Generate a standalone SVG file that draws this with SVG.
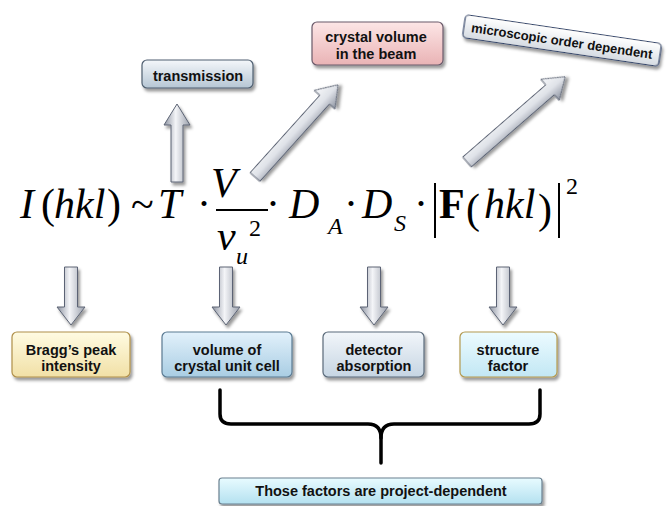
<svg xmlns="http://www.w3.org/2000/svg" width="668" height="506" viewBox="0 0 668 506">
<defs>
<filter id="sh" x="-20%" y="-30%" width="140%" height="170%"><feDropShadow dx="2" dy="3" stdDeviation="1.8" flood-color="#000" flood-opacity="0.4"/></filter>
<linearGradient id="gGray" x1="0" y1="0" x2="0" y2="1"><stop offset="0" stop-color="#f4f7fa"/><stop offset="1" stop-color="#b6c6d4"/></linearGradient>
<linearGradient id="gPink" x1="0" y1="0" x2="0" y2="1"><stop offset="0" stop-color="#fde6e6"/><stop offset="1" stop-color="#e9b3b5"/></linearGradient>
<linearGradient id="gWhite" x1="0" y1="0" x2="0" y2="1"><stop offset="0" stop-color="#ffffff"/><stop offset="1" stop-color="#d5dbe2"/></linearGradient>
<linearGradient id="gYel" x1="0" y1="0" x2="0" y2="1"><stop offset="0" stop-color="#fffbe2"/><stop offset="1" stop-color="#f1e0a6"/></linearGradient>
<linearGradient id="gBlue" x1="0" y1="0" x2="0" y2="1"><stop offset="0" stop-color="#e2f1fb"/><stop offset="1" stop-color="#a9cde3"/></linearGradient>
<linearGradient id="gBlueGray" x1="0" y1="0" x2="0" y2="1"><stop offset="0" stop-color="#f2f6fa"/><stop offset="1" stop-color="#c6d5e3"/></linearGradient>
<linearGradient id="gCyan" x1="0" y1="0" x2="0" y2="1"><stop offset="0" stop-color="#ecfbff"/><stop offset="1" stop-color="#c2e7f4"/></linearGradient>
<linearGradient id="gCyan2" x1="0" y1="0" x2="0" y2="1"><stop offset="0" stop-color="#e8fbff"/><stop offset="1" stop-color="#b4e1f0"/></linearGradient>
<linearGradient id="gArrV" x1="0" y1="0" x2="1" y2="0"><stop offset="0" stop-color="#8c92a0"/><stop offset="0.45" stop-color="#f4f5f8"/><stop offset="1" stop-color="#9aa0ac"/></linearGradient>
<linearGradient id="gArrD" x1="0" y1="0" x2="0" y2="1"><stop offset="0" stop-color="#f6f7fa"/><stop offset="0.5" stop-color="#dfe2e8"/><stop offset="1" stop-color="#8c92a0"/></linearGradient>
<path id="downArr" d="M-6.5,0 H6.5 V40 H14 L0,58 L-14,40 H-6.5 Z"/>
<style>
.box{stroke-width:1.2;filter:url(#sh)}
.lbl{font-family:"Liberation Sans",Arial,sans-serif;font-weight:bold;font-size:14.5px;fill:#111;text-anchor:middle}
.arr{stroke:#5c6474;stroke-width:1;filter:url(#sh)}
.mi{font-family:"Liberation Serif","Times New Roman",serif;font-style:italic;font-size:42px;fill:#000}
.mu{font-family:"Liberation Serif","Times New Roman",serif;font-size:42px;fill:#000}
.ms{font-family:"Liberation Serif","Times New Roman",serif;font-size:24px;fill:#000}
.msi{font-family:"Liberation Serif","Times New Roman",serif;font-style:italic;font-size:24px;fill:#000}
</style>
</defs>

<g id="equation">
<text class="mi" x="20" y="218">I</text>
<text class="mu" x="41" y="218">(</text>
<text class="mi" x="54" y="218">hkl</text>
<text class="mu" x="107" y="218">)</text>
<text class="mu" x="131" y="218">~</text>
<text class="mi" x="158" y="218">T</text>
<text class="mu" x="197" y="218">·</text>
<text class="mi" x="211" y="197">V</text>
<line x1="216" y1="210" x2="268" y2="210" stroke="#000" stroke-width="2"/>
<text class="mi" x="217" y="250">v</text>
<text class="msi" x="236" y="264">u</text>
<text class="ms" x="249" y="236">2</text>
<text class="mu" x="266" y="218">·</text>
<text class="mi" x="289" y="218">D</text>
<text class="msi" x="328" y="234">A</text>
<text class="mu" x="344" y="218">·</text>
<text class="mi" x="362" y="218">D</text>
<text class="msi" x="394" y="231">S</text>
<text class="mu" x="414" y="218">·</text>
<line x1="435" y1="183" x2="435" y2="238" stroke="#000" stroke-width="2"/>
<text class="mu" x="439" y="218" font-weight="bold">F</text>
<text class="mu" x="466" y="223" font-size="52">(</text>
<text class="mi" x="484" y="218">hkl</text>
<text class="mu" x="538" y="223" font-size="52">)</text>
<line x1="559" y1="183" x2="559" y2="238" stroke="#000" stroke-width="2"/>
<text class="ms" x="566" y="194">2</text>
</g>

<g id="connectors">
<path class="arr" fill="url(#gArrV)" d="M171,182 V125 H164 L177,104 L190,125 H183 V182 Z"/>
<g transform="translate(255,177) rotate(-48)"><path class="arr" fill="url(#gArrD)" d="M0,-6.5 H104 V-14 L124,0 L104,14 V6.5 H0 Z"/></g>
<g transform="translate(467,162) rotate(-41)"><path class="arr" fill="url(#gArrD)" d="M0,-6.5 H110 V-14 L130,0 L110,14 V6.5 H0 Z"/></g>
<use href="#downArr" class="arr" fill="url(#gArrV)" x="71" y="267"/>
<use href="#downArr" class="arr" fill="url(#gArrV)" x="226" y="267"/>
<use href="#downArr" class="arr" fill="url(#gArrV)" x="374" y="267"/>
<use href="#downArr" class="arr" fill="url(#gArrV)" x="503" y="267"/>
<path d="M220,390 V414 Q220,424 231,424 H368 Q381,424 381,438 V463" fill="none" stroke="#000" stroke-width="3.5" stroke-linecap="round" stroke-linejoin="round"/>
<path d="M540,390 V414 Q540,424 529,424 H394 Q381,424 381,438" fill="none" stroke="#000" stroke-width="3.5" stroke-linecap="round" stroke-linejoin="round"/>
</g>

<g id="transmission">
<rect class="box" x="142" y="60" width="111" height="28" rx="5" fill="url(#gGray)" stroke="#4f5f70"/>
<text class="lbl" x="198" y="81">transmission</text>
</g>

<g id="crystal-volume">
<rect class="box" x="312" y="22" width="131" height="43" rx="5" fill="url(#gPink)" stroke="#6a5a6a"/>
<text class="lbl" x="376" y="42">crystal volume</text>
<text class="lbl" x="376" y="59">in the beam</text>
</g>

<g id="microscopic" transform="translate(562,40.5) rotate(8.4)">
<rect class="box" x="-99" y="-11.5" width="198" height="23" rx="4" fill="url(#gWhite)" stroke="#33456a"/>
<text x="0" y="5" font-family="'Liberation Sans',Arial,sans-serif" font-weight="bold" font-size="13px" fill="#111" text-anchor="middle">microscopic order dependent</text>
</g>

<g id="bragg">
<rect class="box" x="12" y="332" width="118" height="45" rx="5" fill="url(#gYel)" stroke="#b0904a"/>
<text class="lbl" x="71" y="355">Bragg’s peak</text>
<text class="lbl" x="71" y="371">intensity</text>
</g>

<g id="unit-cell">
<rect class="box" x="162" y="332" width="130" height="45" rx="5" fill="url(#gBlue)" stroke="#5a7a92"/>
<text class="lbl" x="227" y="355">volume of</text>
<text class="lbl" x="227" y="371">crystal unit cell</text>
</g>

<g id="detector">
<rect class="box" x="323" y="332" width="101" height="45" rx="5" fill="url(#gBlueGray)" stroke="#5a6a7a"/>
<text class="lbl" x="374" y="355">detector</text>
<text class="lbl" x="374" y="371">absorption</text>
</g>

<g id="structure">
<rect class="box" x="460" y="332" width="97" height="45" rx="5" fill="url(#gCyan)" stroke="#b49a50"/>
<text class="lbl" x="508" y="355">structure</text>
<text class="lbl" x="508" y="371">factor</text>
</g>

<g id="project">
<rect class="box" x="219" y="478" width="323" height="26" rx="3" fill="url(#gCyan2)" stroke="#6a8090"/>
<text class="lbl" x="381" y="496">Those factors are project-dependent</text>
</g>
</svg>
